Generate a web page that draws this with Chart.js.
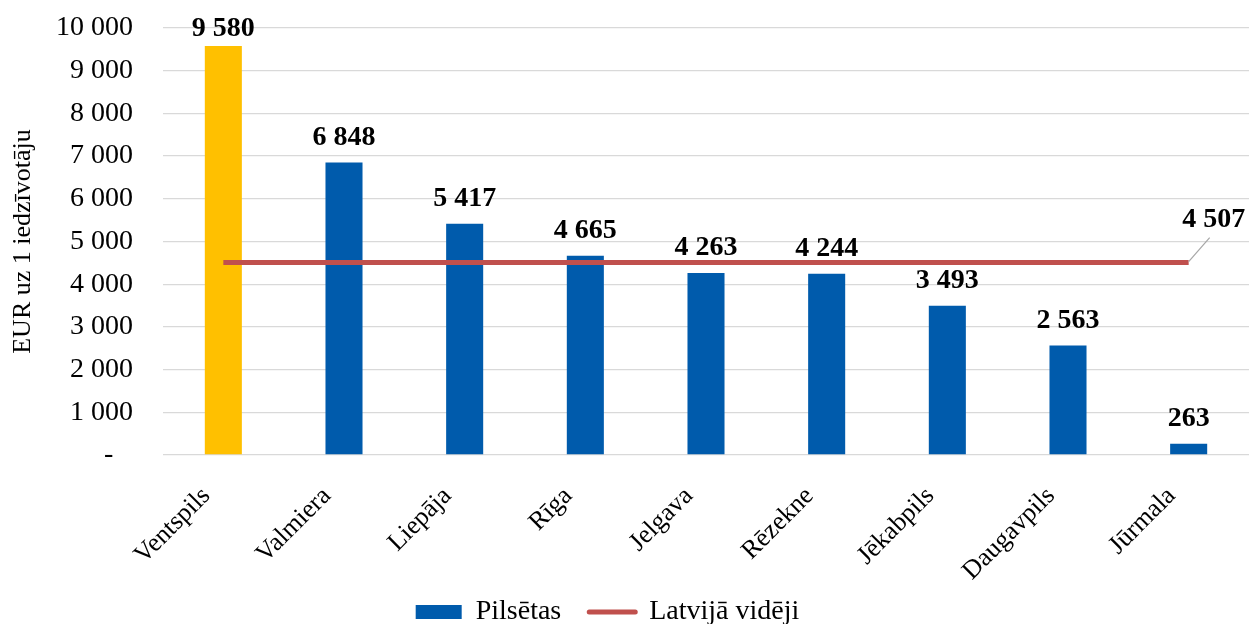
<!DOCTYPE html>
<html>
<head>
<meta charset="utf-8">
<script src="https://cdn.jsdelivr.net/npm/chart.js@4/dist/chart.umd.min.js"></script>
<style>
html,body{margin:0;padding:0;background:#fff;}
#wrap{width:1259px;height:624px;position:relative;}
</style>
</head>
<body>
<div id="wrap"><canvas id="c" width="1259" height="624"></canvas></div>
<script>
const categories = ["Ventspils","Valmiera","Liepāja","Rīga","Jelgava","Rēzekne","Jēkabpils","Daugavpils","Jūrmala"];
const cityValues = [9580, 6848, 5417, 4665, 4263, 4244, 3493, 2563, 263];
const latviaAverage = [4507, 4507, 4507, 4507, 4507, 4507, 4507, 4507, 4507];
const seriesNames = ["Pilsētas", "Latvijā vidēji"];
const axisTitle = "EUR uz 1 iedzīvotāju";
const yTicks = [0,1000,2000,3000,4000,5000,6000,7000,8000,9000,10000];

const BLUE = "#005BAC", GOLD = "#FFC000", RED = "#C0504D";
const FONT = "'Liberation Serif', 'Times New Roman', serif";

function fmt(v){
  if (v === 0) return "-";
  return String(Math.round(v)).replace(/\B(?=(\d{3})+(?!\d))/g, " ");
}

const barColors = cityValues.map((v,i)=> i===0 ? GOLD : BLUE);

const labelPlugin = {
  id: 'valueLabels',
  afterLayout(chart){
    const lg = chart.legend;
    if (lg) {
      lg.top -= 15;
      lg.height = lg.bottom - lg.top;
      lg.left -= 17; lg.right -= 17;
    }
  },
  afterDatasetsDraw(chart){
    const ctx = chart.ctx;
    ctx.save();
    ctx.font = "bold 28px " + FONT;
    ctx.fillStyle = "#000";
    ctx.textAlign = "center";
    ctx.textBaseline = "alphabetic";
    const barMeta = chart.getDatasetMeta(0);
    barMeta.data.forEach((el, i) => {
      const y = Math.max(el.y - 18, chart.chartArea.top + 8);
      ctx.fillText(fmt(cityValues[i]), el.x, y);
    });
    const lineMeta = chart.getDatasetMeta(1);
    const last = lineMeta.data[lineMeta.data.length - 1];
    ctx.strokeStyle = "#A6A6A6";
    ctx.lineWidth = 1.2;
    ctx.beginPath();
    ctx.moveTo(last.x, last.y - 1);
    ctx.lineTo(last.x + 21, last.y - 25);
    ctx.stroke();
    ctx.fillText(fmt(latviaAverage[latviaAverage.length-1]), last.x + 25, last.y - 36);
    ctx.restore();
  }
};

new Chart(document.getElementById('c'), {
  data: {
    labels: categories,
    datasets: [
      {
        type: 'bar',
        label: seriesNames[0],
        data: cityValues,
        backgroundColor: barColors,
        borderWidth: 0,
        barPercentage: 0.307,
        categoryPercentage: 1.0,
        order: 1
      },
      {
        type: 'line',
        label: seriesNames[1],
        data: latviaAverage,
        borderColor: RED,
        backgroundColor: RED,
        borderWidth: 5,
        borderCapStyle: 'butt',
        pointRadius: 0,
        pointHoverRadius: 0,
        fill: false,
        tension: 0,
        order: 0
      }
    ]
  },
  options: {
    responsive: false,
    animation: false,
    devicePixelRatio: 1,
    layout: { padding: { top: 28, right: 10, left: 0, bottom: 0 } },
    scales: {
      x: {
        grid: { display: false, drawTicks: false },
        border: { display: false },
        ticks: {
          color: "#000",
          font: { family: FONT, size: 26 },
          minRotation: 45, maxRotation: 45,
          padding: 26,
          labelOffset: -17,
          autoSkip: false
        },
        afterFit(scale){ scale.height = 130; }
      },
      y: {
        min: 0, max: 10000,
        afterBuildTicks(scale){ scale.ticks = yTicks.map(v => ({value: v})); },
        grid: { color: "#D9D9D9", lineWidth: 1.3, drawTicks: true, tickLength: 30, tickColor: "rgba(0,0,0,0)" },
        border: { display: false },
        ticks: {
          color: "#000",
          font: { family: FONT, size: 28 },
          padding: 0,
          callback: (v) => v === 0 ? "-\u2002\u2009" : fmt(v)
        },
        title: {
          display: true,
          text: axisTitle,
          color: "#000",
          font: { family: FONT, size: 26 },
          padding: { top: 8, bottom: 0 }
        },
        afterFit(scale){ scale.width = 163; }
      }
    },
    plugins: {
      tooltip: { enabled: false },
      legend: {
        position: 'bottom',
        maxHeight: 39,
        labels: {
          color: "#000",
          font: { family: FONT, size: 28 },
          usePointStyle: true,
          pointStyleWidth: 46,
          boxHeight: 14,
          padding: 28,
          generateLabels(chart){
            const items = Chart.defaults.plugins.legend.labels.generateLabels(chart);
            items.sort((a,b) => a.datasetIndex - b.datasetIndex);
            items[0].fillStyle = BLUE;
            items[0].strokeStyle = BLUE;
            items[0].lineWidth = 0;
            items[0].pointStyle = 'rect';
            items[1].pointStyle = 'line';
            items[1].strokeStyle = RED;
            items[1].lineWidth = 5;
            items[1].lineCap = 'round';
            return items;
          }
        }
      }
    }
  },
  plugins: [labelPlugin]
});
</script>
</body>
</html>
